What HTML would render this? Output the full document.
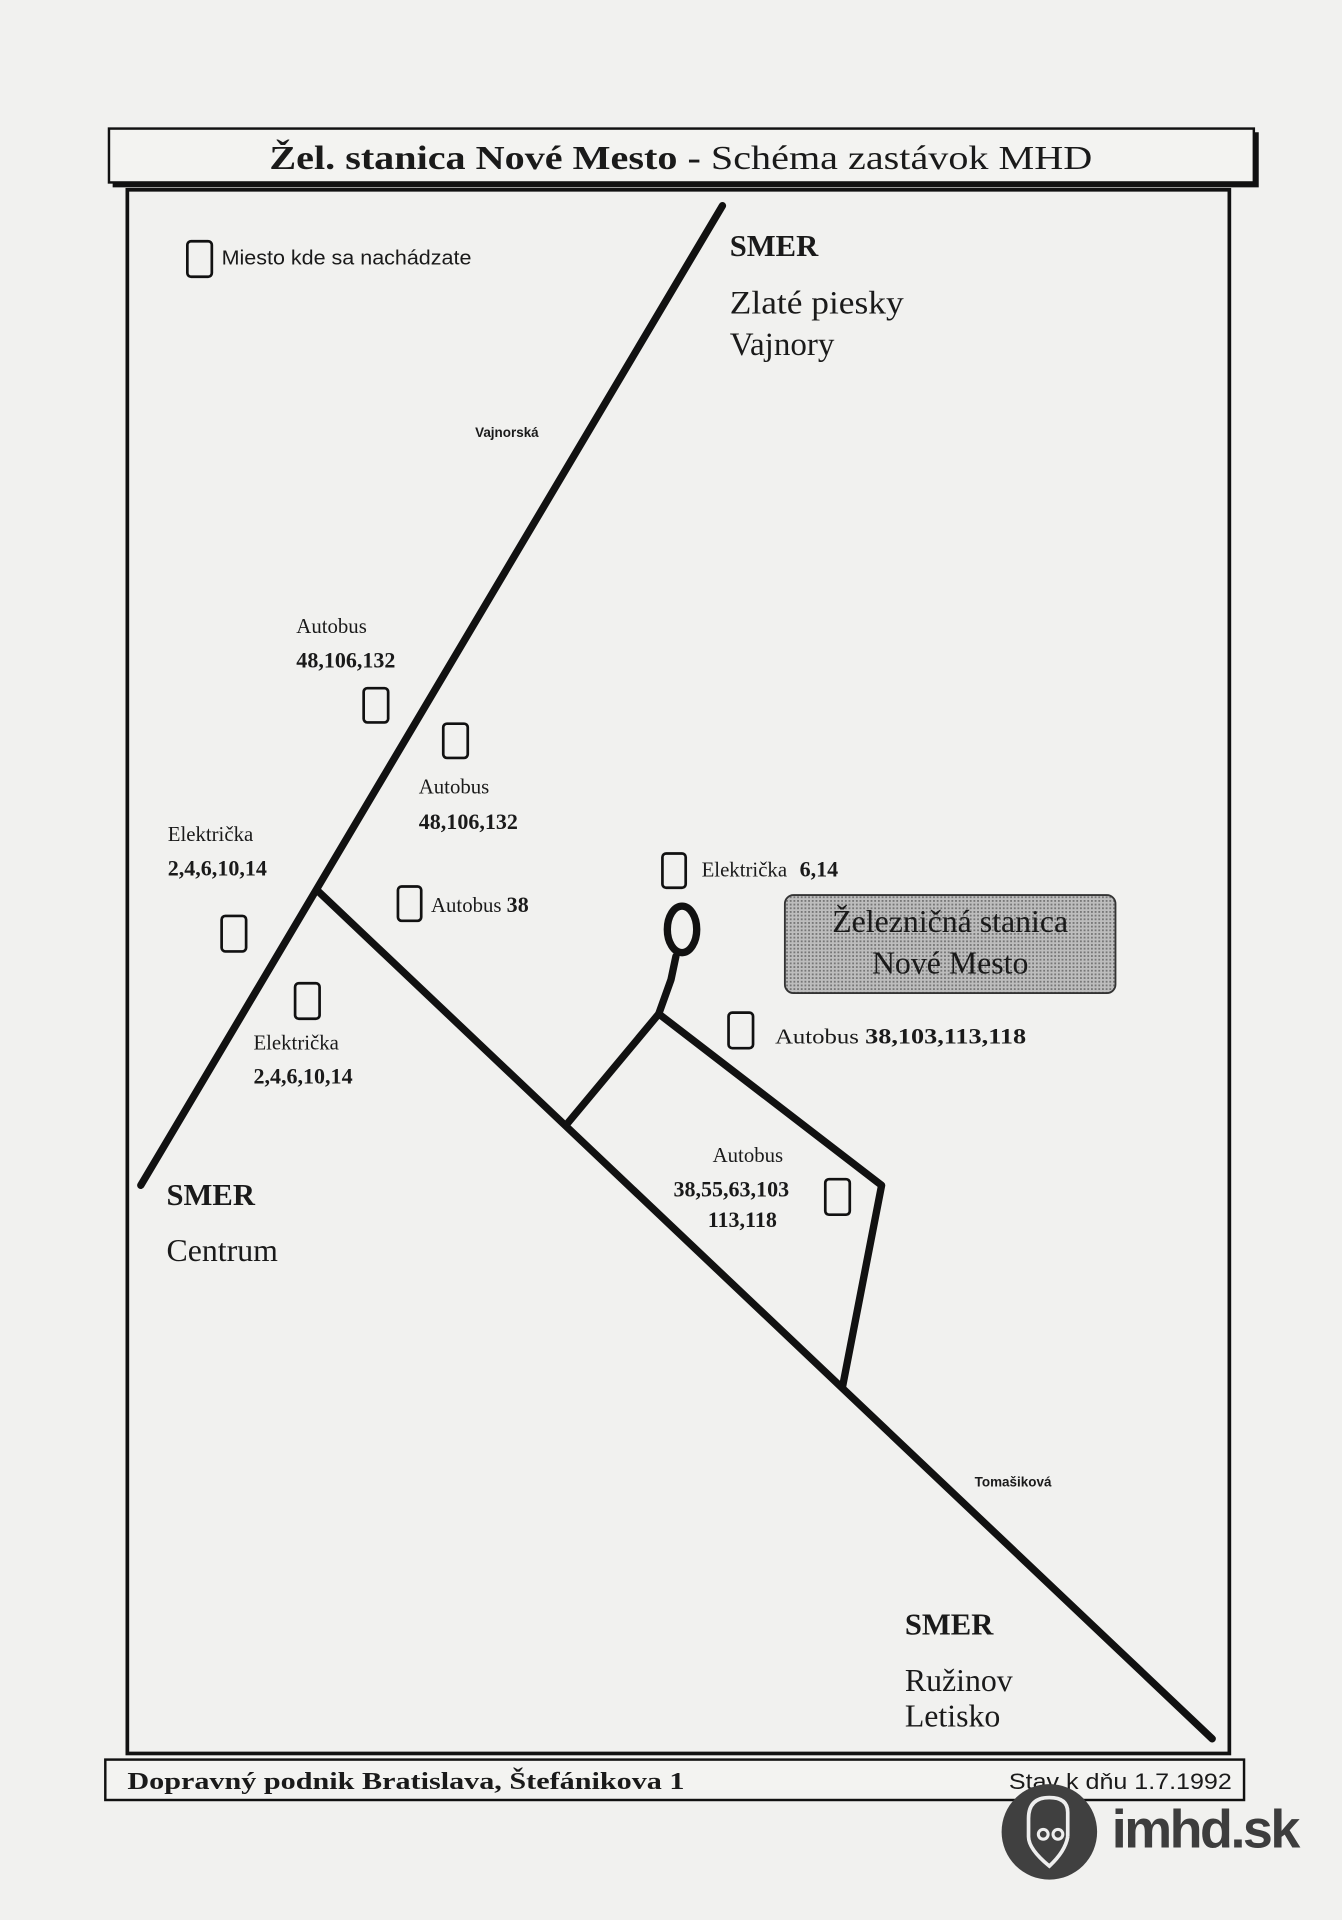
<!DOCTYPE html>
<html><head><meta charset="utf-8"><style>
html,body{margin:0;padding:0;background:#f1f1ef;}
svg{display:block}
.s{font-family:"Liberation Serif",serif;fill:#1a1a1a}
.a{font-family:"Liberation Sans","DejaVu Sans",sans-serif;fill:#1a1a1a}
</style></head><body>
<svg width="1342" height="1920" viewBox="0 0 1096 1568" preserveAspectRatio="none" xmlns="http://www.w3.org/2000/svg">
<defs>
<pattern id="dots" width="3" height="3" patternUnits="userSpaceOnUse"><rect width="3" height="3" fill="#bdbdbd"/><rect width="1.5" height="1.5" fill="#777"/></pattern>
</defs>
<rect width="1096" height="1568" fill="#f1f1ef"/>
<!-- title -->
<rect x="92" y="108" width="936" height="45" fill="#111"/>
<rect x="89" y="105" width="935" height="44" fill="#f3f3f1" stroke="#111" stroke-width="2"/>
<text x="220" y="138" class="s" font-size="28" textLength="672" lengthAdjust="spacingAndGlyphs"><tspan font-weight="bold">Žel. stanica Nové Mesto -</tspan> Schéma zastávok MHD</text>
<!-- main frame -->
<rect x="104" y="155" width="900" height="1277" fill="none" stroke="#111" stroke-width="3"/>
<!-- roads -->
<g stroke="#111" stroke-width="6" fill="none" stroke-linecap="round" stroke-linejoin="round">
<line x1="590" y1="168" x2="115" y2="968"/>
<line x1="260" y1="728" x2="990" y2="1420"/>
<polyline points="463,918 538,828 720,968 688,1133"/>
<polyline points="538,828 548,800 552,781"/>
<ellipse cx="557" cy="759" rx="12" ry="19"/>
</g>
<!-- station box -->
<rect x="641" y="731" width="270" height="80" rx="7" fill="url(#dots)" stroke="#333" stroke-width="1.5"/>
<text x="776" y="761" text-anchor="middle" class="s" font-size="26">Železničná stanica</text>
<text x="776" y="795" text-anchor="middle" class="s" font-size="26">Nové Mesto</text>
<!-- stop boxes -->
<g fill="none" stroke="#111" stroke-width="2.2">
<rect x="153" y="197" width="20" height="29" rx="3"/>
<rect x="297" y="562" width="20" height="28" rx="3"/>
<rect x="362" y="591" width="20" height="28" rx="3"/>
<rect x="181" y="748" width="20" height="29" rx="3"/>
<rect x="241" y="803" width="20" height="29" rx="3"/>
<rect x="325" y="724" width="19" height="28" rx="3"/>
<rect x="541" y="697" width="19" height="28" rx="3"/>
<rect x="595" y="827" width="20" height="29" rx="3"/>
<rect x="674" y="963" width="20" height="29" rx="3"/>
</g>
<!-- labels -->
<text x="181" y="216" class="a" font-size="16.5" textLength="204" lengthAdjust="spacingAndGlyphs">Miesto kde sa nachádzate</text>
<text x="596" y="209" class="s" font-size="25" font-weight="bold">SMER</text>
<text x="596" y="256" class="s" font-size="27" textLength="142" lengthAdjust="spacingAndGlyphs">Zlaté piesky</text>
<text x="596" y="290" class="s" font-size="27">Vajnory</text>
<text x="388" y="357" class="a" font-size="11" font-weight="bold">Vajnorská</text>
<text x="242" y="517" class="s" font-size="17">Autobus</text>
<text x="242" y="545" class="s" font-size="18" font-weight="bold">48,106,132</text>
<text x="342" y="648" class="s" font-size="17">Autobus</text>
<text x="342" y="677" class="s" font-size="18" font-weight="bold">48,106,132</text>
<text x="137" y="687" class="s" font-size="17">Električka</text>
<text x="137" y="715" class="s" font-size="18" font-weight="bold">2,4,6,10,14</text>
<text x="352" y="745" class="s" font-size="17">Autobus <tspan font-weight="bold" font-size="18">38</tspan></text>
<text x="573" y="716" class="s" font-size="17">Električka <tspan font-weight="bold" font-size="18" dx="6">6,14</tspan></text>
<text x="207" y="857" class="s" font-size="17">Električka</text>
<text x="207" y="885" class="s" font-size="18" font-weight="bold">2,4,6,10,14</text>
<text x="633" y="852" class="s" font-size="17" textLength="205" lengthAdjust="spacingAndGlyphs">Autobus <tspan font-weight="bold" font-size="18">38,103,113,118</tspan></text>
<text x="582" y="949" class="s" font-size="17">Autobus</text>
<text x="550" y="977" class="s" font-size="18" font-weight="bold">38,55,63,103</text>
<text x="578" y="1002" class="s" font-size="18" font-weight="bold">113,118</text>
<text x="136" y="984" class="s" font-size="25" font-weight="bold">SMER</text>
<text x="136" y="1030" class="s" font-size="26">Centrum</text>
<text x="796" y="1214" class="a" font-size="11" font-weight="bold">Tomašiková</text>
<text x="739" y="1335" class="s" font-size="25" font-weight="bold">SMER</text>
<text x="739" y="1381" class="s" font-size="26">Ružinov</text>
<text x="739" y="1410" class="s" font-size="26">Letisko</text>
<!-- footer -->
<rect x="86" y="1437" width="930" height="33" fill="#f3f3f1" stroke="#111" stroke-width="2"/>
<text x="104" y="1461" class="s" font-size="20" font-weight="bold" textLength="455" lengthAdjust="spacingAndGlyphs">Dopravný podnik Bratislava, Štefánikova 1</text>
<text x="824" y="1461" class="a" font-size="18" textLength="182" lengthAdjust="spacingAndGlyphs">Stav k dňu 1.7.1992</text>
<!-- logo -->
<circle cx="857" cy="1496" r="39" fill="#404040"/>
<path d="M872,1500 L872,1480 Q872,1468 857,1468 Q840,1468 840,1485 L840,1500 Q840,1510 857,1524 Q870,1512 872,1500" fill="none" stroke="#eee" stroke-width="3"/>
<circle cx="852" cy="1498" r="4" fill="none" stroke="#eee" stroke-width="2.5"/>
<circle cx="864" cy="1498" r="4" fill="none" stroke="#eee" stroke-width="2.5"/>
<text x="908" y="1509" class="a" font-size="44" font-weight="bold" style="fill:#3d3d3d" textLength="154">imhd.sk</text>
</svg>
</body></html>
